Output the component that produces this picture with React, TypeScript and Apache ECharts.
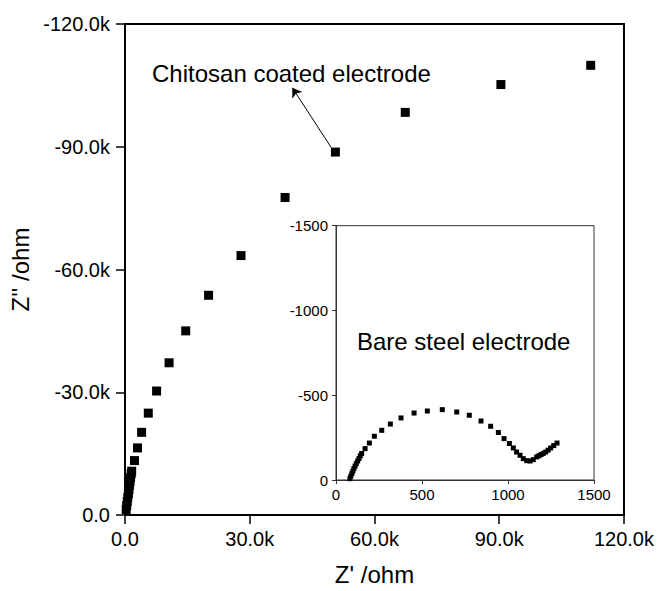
import React, { useEffect, useRef } from "react";
import * as echarts from "echarts";

// Main plot: chitosan coated electrode (Z' and Z'' in ohm)
const coatedZre = [
  112000, 90400, 67400, 50600, 38500, 27900, 20100, 14600, 10600, 7600, 5600, 4000, 3000, 2280, 1600,
  1490, 1340, 1200, 1080, 940, 820, 670, 550, 410, 290,
];
const coatedZim = [
  -109900, -105200, -98400, -88700, -77600, -63400, -53700, -45000, -37200, -30300, -24900, -20200, -16400, -13300, -10700,
  -10100, -9100, -8150, -7170, -6200, -5230, -4260, -3280, -2310, -1340,
];

// Inset: bare steel electrode
const bareZre = [
  81, 86, 92, 98, 104, 111, 118, 126, 134, 141, 149, 169, 194, 223, 266, 316, 378, 454, 531, 618, 702, 775, 843,
  899, 944, 977, 1008, 1031, 1050, 1070, 1089, 1109, 1128, 1147, 1167, 1180, 1192, 1205, 1219, 1233, 1248, 1266, 1285,
];
const bareZim = [
  -8, -22, -37, -52, -67, -82, -97, -112, -127, -142, -156, -185, -218, -258, -293, -330, -366, -395, -407, -415, -401, -382, -348,
  -317, -280, -244, -215, -189, -165, -146, -126, -114, -112, -120, -136, -143, -150, -157, -165, -176, -189, -203, -218,
];

const mainXTicks = { min: 0, max: 120000, interval: 30000 };
const mainYTicks = { min: -120000, max: 0, interval: 30000 };
const insetXTicks = { min: 0, max: 1500, interval: 500 };
const insetYTicks = { min: -1500, max: 0, interval: 500 };

const arrowFrom = [49600, -89800];
const arrowTo = [40250, -104400];

const FONT = "Liberation Sans, Arial, Helvetica, sans-serif";

const fmtK = (v: number) => (v === 0 ? "0.0" : (v / 1000).toFixed(1) + "k");
const fmtPlain = (v: number) => String(v);

export default function App() {
  const ref = useRef<HTMLDivElement>(null);
  useEffect(() => {
    if (!ref.current) return;
    const chart = echarts.init(ref.current, null, { renderer: "svg" });
    const axisCommon = {
      splitLine: { show: false },
    };
    chart.setOption({
      animation: false,
      backgroundColor: "#fff",
      textStyle: { fontFamily: FONT },
      grid: [
        {
          left: 125,
          top: 24,
          right: 32,
          bottom: 73.5,
          show: true,
          borderColor: "#000",
          borderWidth: 2,
          backgroundColor: "transparent",
        },
        {
          left: 336,
          top: 225.7,
          right: 63,
          bottom: 111,
          show: true,
          borderColor: "#333",
          borderWidth: 1,
          backgroundColor: "#fff",
          z: 5,
        },
      ],
      xAxis: [
        {
          type: "value",
          gridIndex: 0,
          ...mainXTicks,
          ...axisCommon,
          name: "Z' /ohm",
          nameLocation: "middle",
          nameGap: 47,
          nameTextStyle: { fontSize: 24, color: "#000", fontFamily: FONT },
          axisLine: { show: true, onZero: false, lineStyle: { color: "#000", width: 2 } },
          axisTick: { show: true, length: 9, lineStyle: { color: "#000", width: 1.5 } },
          axisLabel: { color: "#000", fontFamily: FONT, fontSize: 20, margin: 14, formatter: fmtK },
        },
        {
          type: "value",
          gridIndex: 1,
          ...insetXTicks,
          ...axisCommon,
          z: 6,
          axisLine: { show: true, onZero: false, lineStyle: { color: "#333", width: 1 } },
          axisTick: { show: true, length: 4, lineStyle: { color: "#333", width: 1 } },
          axisLabel: { color: "#000", fontFamily: FONT, fontSize: 15, margin: 7, formatter: fmtPlain },
        },
      ],
      yAxis: [
        {
          type: "value",
          gridIndex: 0,
          inverse: true,
          ...mainYTicks,
          ...axisCommon,
          name: "Z'' /ohm",
          nameLocation: "middle",
          nameGap: 86,
          nameTextStyle: { fontSize: 24, color: "#000", fontFamily: FONT },
          axisLine: { show: true, onZero: false, lineStyle: { color: "#000", width: 2 } },
          axisTick: { show: true, length: 9, lineStyle: { color: "#000", width: 1.5 } },
          axisLabel: { color: "#000", fontFamily: FONT, fontSize: 20, margin: 15, formatter: fmtK },
        },
        {
          type: "value",
          gridIndex: 1,
          inverse: true,
          ...insetYTicks,
          ...axisCommon,
          z: 6,
          axisLine: { show: true, onZero: false, lineStyle: { color: "#333", width: 1 } },
          axisTick: { show: true, length: 4, lineStyle: { color: "#333", width: 1 } },
          axisLabel: { color: "#000", fontFamily: FONT, fontSize: 15, margin: 8, formatter: fmtPlain },
        },
      ],
      series: [
        {
          type: "scatter",
          xAxisIndex: 0,
          yAxisIndex: 0,
          symbol: "rect",
          symbolSize: 9,
          itemStyle: { color: "#000", opacity: 1 },
          data: coatedZre.map((x, i) => [x, coatedZim[i]]),
          silent: true,
          markLine: {
            silent: true,
            symbol: ["none", "arrow"],
            symbolSize: 9,
            label: { show: false },
            lineStyle: { color: "#000", width: 1, type: "solid", opacity: 1 },
            data: [[{ coord: arrowFrom }, { coord: arrowTo }]],
          },
        },
        {
          type: "scatter",
          xAxisIndex: 1,
          yAxisIndex: 1,
          symbol: "rect",
          symbolSize: 5,
          z: 7,
          itemStyle: { color: "#000", opacity: 1 },
          data: bareZre.map((x, i) => [x, bareZim[i]]),
          silent: true,
        },
      ],
      graphic: [
        {
          type: "text",
          left: 152,
          top: 61,
          z: 10,
          style: { text: "Chitosan coated electrode", fontSize: 24, fontFamily: FONT, fill: "#000" },
        },
        {
          type: "text",
          left: 357,
          top: 329,
          z: 10,
          style: { text: "Bare steel electrode", fontSize: 24, fontFamily: FONT, fill: "#000" },
        },
      ],
    });
    return () => chart.dispose();
  }, []);
  return (
    <div
      ref={ref}
      style={{ position: "fixed", left: 0, top: 0, width: 657, height: 591, background: "#fff" }}
    />
  );
}
